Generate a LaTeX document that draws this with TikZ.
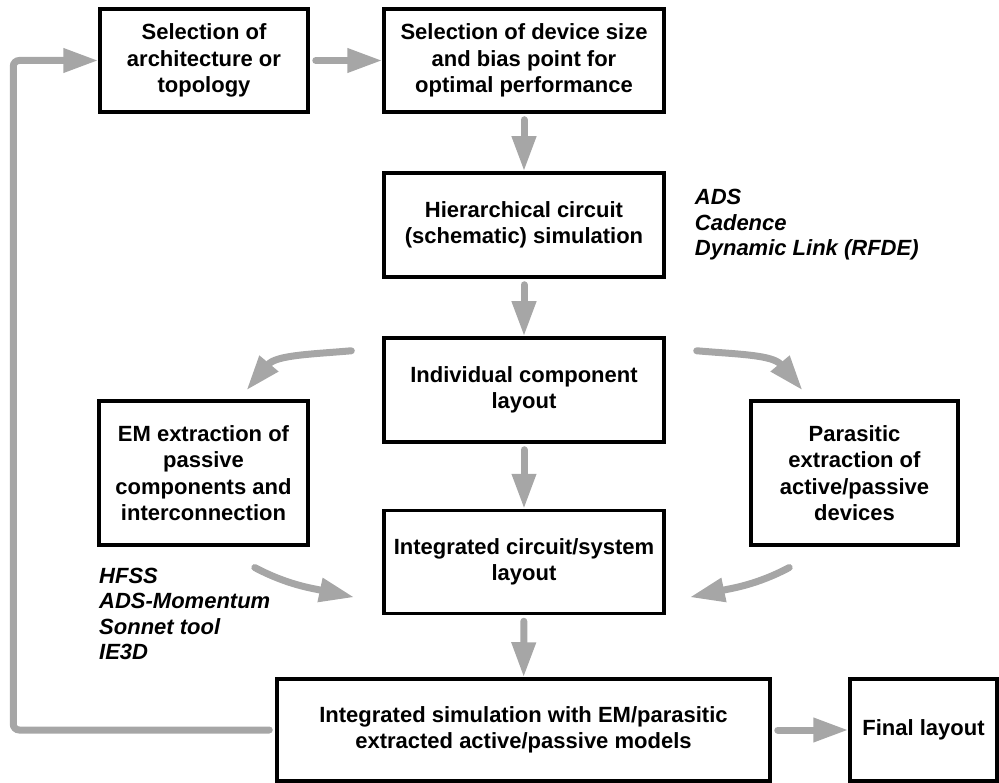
\documentclass[tikz,border=0pt]{standalone}
\usepackage{fontspec}
\setmainfont{Liberation Sans}
\usepackage{tikz}
\usetikzlibrary{arrows.meta}
\usetikzlibrary{positioning}
\definecolor{flowgray}{RGB}{166,166,166}

\begin{document}
\begin{tikzpicture}[x=1pt,y=1pt,
  flow/.style={draw=flowgray,line width=7pt,line cap=round,shorten <=6pt,
    -{Triangle[length=35pt,width=23pt]}},
  box/.style={rectangle,draw,line width=3.5pt,align=center,inner sep=2pt,
    font=\bfseries\fontsize{22}{26.5}\selectfont},
  tool/.style={align=left,inner sep=0pt,font=\bfseries\itshape\fontsize{22}{25.5}\selectfont}]

  \useasboundingbox (0,-783) rectangle (999,0);

  % top row
  \node[box,minimum width=208pt,minimum height=103pt] (arch) at (204,-60.5) {Selection of\\architecture or\\topology};
  \node[box,minimum width=280pt,minimum height=103pt] (dev) at (524,-60.5) {Selection of device size\\and bias point for\\optimal performance};

  % middle column
  \node[box,minimum width=280pt,minimum height=104pt] (hier) at (524,-225) {Hierarchical circuit\\(schematic) simulation};
  \node[tool] (ads) [right=29pt of hier] {ADS\\Cadence\\Dynamic Link (RFDE)};
  \node[box,minimum width=280pt,minimum height=104pt] (indiv) at (524,-390) {Individual component\\layout};
  \node[box,minimum width=209pt,minimum height=144pt] (em) at (203.5,-473) {EM extraction of\\passive\\components and\\interconnection};
  \node[box,minimum width=207pt,minimum height=144pt] (para) at (854.5,-473) {Parasitic\\extraction of\\active/passive\\devices};
  \node[box,minimum width=280pt,minimum height=103pt] (integ) at (524,-562) {Integrated circuit/system\\layout};
  \node[tool,anchor=west] (hfss) at (99,-614) {HFSS\\ADS-Momentum\\Sonnet tool\\IE3D};

  % bottom row
  \node[box,minimum width=493pt,minimum height=102pt] (sim) at (523.5,-730) {Integrated simulation with EM/parasitic\\extracted active/passive models};
  \node[box,minimum width=147pt,minimum height=102pt] (final) at (923.5,-730) {Final layout};

  \draw[flow] (arch) -- (dev);
  \draw[flow] (dev) -- (hier);
  \draw[flow] (hier) -- (indiv);
  \draw[flow] (indiv) -- (integ);
  \draw[flow] (integ) -- (sim);
  \draw[flow] (sim) -- (final);

  % extraction loops
  \draw[flow] ([shift={(-25,-14)}]indiv.north west) to[out=185,in=50] ([shift={(43,9)}]em.north);
  \draw[flow] ([shift={(25,-14)}]indiv.north east) to[out=-5,in=130] ([shift={(-52,9)}]para.north);
  \draw[flow] ([shift={(46,-18)}]em.south) to[out=-28,in=168] ([shift={(-28,18)}]integ.south west);
  \draw[flow] ([shift={(-60,-18)}]para.south) to[out=208,in=12] ([shift={(24,18)}]integ.south east);

  % feedback
  \draw[flow,rounded corners=6pt] (sim.west) -- ++(-262,0) |- (arch.west);
\end{tikzpicture}
\end{document}
